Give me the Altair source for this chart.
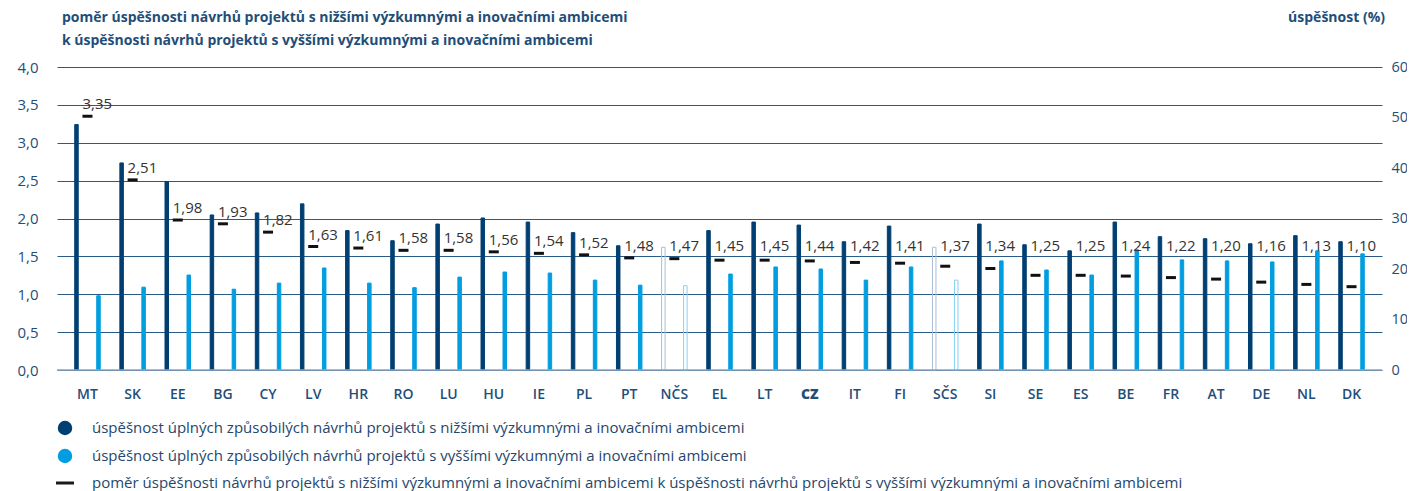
import altair as alt
import pandas as pd

countries = ["MT", "SK", "EE", "BG", "CY", "LV", "HR", "RO", "LU", "HU", "IE", "PL", "PT", "NČS",
             "EL", "LT", "CZ", "IT", "FI", "SČS", "SI", "SE", "ES", "BE", "FR", "AT", "DE", "NL", "DK"]
lower = [48.6, 41.0, 37.3, 30.7, 31.1, 32.9, 27.6, 25.6, 28.9, 30.1, 29.3, 27.2, 24.6, 24.3,
         27.6, 29.3, 28.7, 25.4, 28.5, 24.3, 28.9, 24.8, 23.6, 29.3, 26.4, 26.0, 25.0, 26.6, 25.4]
higher = [14.7, 16.4, 18.8, 16.0, 17.2, 20.2, 17.2, 16.3, 18.4, 19.4, 19.2, 17.8, 16.8, 16.7,
          19.0, 20.4, 20.0, 17.8, 20.4, 17.8, 21.6, 19.8, 18.8, 23.8, 21.8, 21.6, 21.4, 23.6, 23.0]
ratio = [3.35, 2.51, 1.98, 1.93, 1.82, 1.63, 1.61, 1.58, 1.58, 1.56, 1.54, 1.52, 1.48, 1.47,
         1.45, 1.45, 1.44, 1.42, 1.41, 1.37, 1.34, 1.25, 1.25, 1.24, 1.22, 1.20, 1.16, 1.13, 1.10]
aggregates = ["NČS", "SČS"]
ratio_ticks = [0, 0.5, 1.0, 1.5, 2.0, 2.5, 3.0, 3.5, 4.0]
pct_ticks = [0, 10, 20, 30, 40, 50, 60]

title_left = ["poměr úspěšnosti návrhů projektů s nižšími výzkumnými a inovačními ambicemi",
              "k úspěšnosti návrhů projektů s vyššími výzkumnými a inovačními ambicemi"]
title_right = "úspěšnost (%)"
legend_labels = [
    "úspěšnost úplných způsobilých návrhů projektů s nižšími výzkumnými a inovačními ambicemi",
    "úspěšnost úplných způsobilých návrhů projektů s vyššími výzkumnými a inovačními ambicemi",
    "poměr úspěšnosti návrhů projektů s nižšími výzkumnými a inovačními ambicemi k úspěšnosti návrhů projektů s vyššími výzkumnými a inovačními ambicemi",
]

df = pd.DataFrame({"country": countries, "lower": lower, "higher": higher, "ratio": ratio})
df["label"] = [f"{r:.2f}".replace(".", ",") for r in ratio]

DARK = "#003f72"
LIGHT = "#009ee0"
DARK_H = "#a9bfd6"
LIGHT_H = "#86d0f2"
TXT = "#1f4e79"
LEG_TXT = "#25476d"
GRID = "#2a5a86"
FONT = "Open Sans"
W, H = 1325, 303

agg_test = " || ".join([f"datum.country == '{a}'" for a in aggregates])

xenc = alt.X("country:N", sort=countries,
             scale=alt.Scale(paddingInner=0, paddingOuter=0.175),
             axis=alt.Axis(title=None, labelAngle=0, domain=False, ticks=False, labelPadding=17,
                           labelFontSize=14, labelColor=TXT, labelFont=FONT,
                           labelFontWeight=alt.condition("datum.value == 'CZ'", alt.value(800), alt.value(600))))

pct_scale = alt.Scale(domain=[0, 60], nice=False, zero=True)
ratio_scale = alt.Scale(domain=[0, 4], nice=False, zero=True)


def pct_axis():
    return alt.Axis(orient="right", values=pct_ticks, grid=False, domain=False, ticks=False,
                    labelPadding=9, labelFontSize=14.5, labelColor=TXT, labelFont=FONT, title=None)


def ratio_axis():
    return alt.Axis(orient="left", values=ratio_ticks, grid=True, gridColor=GRID, gridWidth=1.2,
                    gridOpacity=1, domain=False, ticks=False, labelPadding=19, labelFontSize=15,
                    labelColor=TXT, labelFont=FONT, title=None,
                    labelExpr="replace(format(datum.value, '.1f'), '.', ',')")


base = alt.Chart(df)

dark = base.mark_bar(size=3.5, strokeWidth=1, xOffset=-11).encode(
    x=xenc,
    y=alt.Y("lower:Q", scale=pct_scale, axis=pct_axis()),
    fill=alt.condition(agg_test, alt.value("transparent"), alt.value(DARK)),
    stroke=alt.condition(agg_test, alt.value(DARK_H), alt.value(DARK)),
)
light = base.mark_bar(size=3.5, strokeWidth=1, xOffset=11).encode(
    x=xenc,
    y=alt.Y("higher:Q", scale=pct_scale, axis=pct_axis()),
    fill=alt.condition(agg_test, alt.value("transparent"), alt.value(LIGHT)),
    stroke=alt.condition(agg_test, alt.value(LIGHT_H), alt.value(LIGHT)),
)
bars = alt.layer(dark, light)

baseline = alt.Chart(pd.DataFrame({"ratio": [0.0]})).mark_rule(color="#8ea7bf", strokeWidth=1.5).encode(
    y=alt.Y("ratio:Q", scale=ratio_scale, axis=ratio_axis()), x=alt.value(0), x2=alt.value(W))
dash = base.mark_tick(color="#111111", thickness=3, size=10, opacity=1).encode(
    x=xenc, y=alt.Y("ratio:Q", scale=ratio_scale, axis=ratio_axis()))
labels = base.transform_calculate(
    ratio="max(datum.ratio, 1.475)"
).mark_text(align="left", baseline="middle", dx=-5, dy=-12, fontSize=15,
            color="#333333", font=FONT).encode(
    x=xenc, y=alt.Y("ratio:Q", scale=ratio_scale, axis=ratio_axis()), text="label:N")
ratios = alt.layer(baseline, dash, labels)

one = pd.DataFrame({"k": [0]})


def txt(text, x, y, align="left", size=15, color=LEG_TXT, weight="normal"):
    return alt.Chart(one).mark_text(text=text, align=align, baseline="middle", fontSize=size,
                                    color=color, font=FONT, fontWeight=weight).encode(
        x=alt.value(x), y=alt.value(y))


titles = [
    txt(title_left[0], 5, -49, size=14, color=TXT, weight="bold"),
    txt(title_left[1], 5, -26, size=14, color=TXT, weight="bold"),
    txt(title_right, W + 3, -49, align="right", size=14, color=TXT, weight="bold"),
]
legend = [
    alt.Chart(one).mark_point(filled=True, size=210, color=DARK, opacity=1).encode(x=alt.value(8), y=alt.value(361)),
    alt.Chart(one).mark_point(filled=True, size=210, color=LIGHT, opacity=1).encode(x=alt.value(8), y=alt.value(389)),
    alt.Chart(one).mark_rule(color="#1a1a1a", strokeWidth=3).encode(x=alt.value(-1), x2=alt.value(17), y=alt.value(416)),
    txt(legend_labels[0], 35, 361),
    txt(legend_labels[1], 35, 389),
    txt(legend_labels[2], 35, 416),
]

chart = alt.layer(bars, ratios, *titles, *legend).resolve_scale(y="independent").properties(
    width=W, height=H,
    padding={"left": 49, "top": 59, "right": 25, "bottom": 121},
    autosize=alt.AutoSizeParams(type="none"),
).configure(font=FONT, view=alt.ViewConfig(stroke=None))

chart.save("out.html", embed_options={"renderer": "svg", "actions": False})
